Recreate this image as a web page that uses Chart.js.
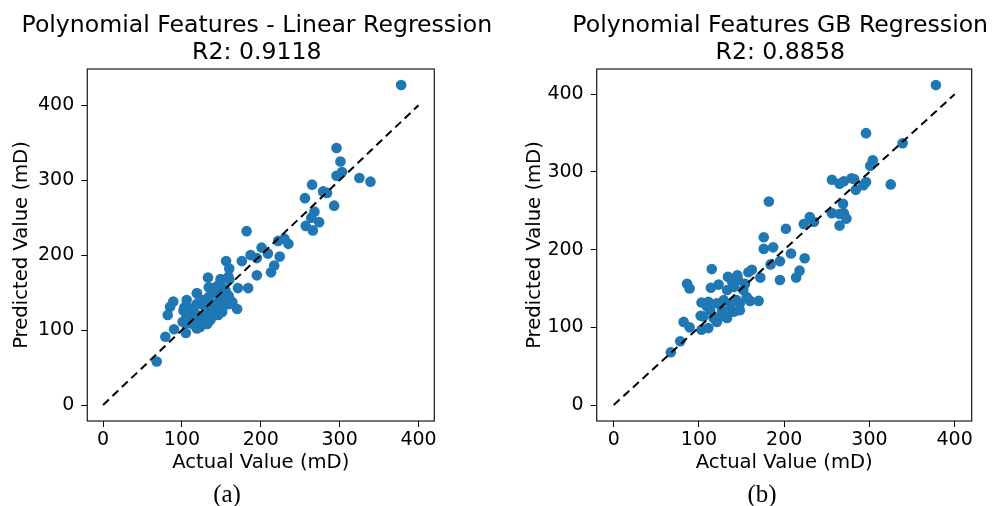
<!DOCTYPE html>
<html><head><meta charset="utf-8">
<script src="https://cdn.jsdelivr.net/npm/chart.js@4"></script>
<style>
html,body{margin:0;padding:0;background:#fff;width:1005px;height:506px;overflow:hidden;}
.wrap{position:absolute;top:0;height:506px;}
.cap{position:absolute;font-family:'Liberation Serif','DejaVu Serif',serif;font-size:25px;color:#000;transform:translate(-50%,-50%);white-space:nowrap;}
</style></head><body>
<div class="wrap" style="left:0;width:500px"><canvas id="c1" width="500" height="506"></canvas></div>
<div class="wrap" style="left:510px;width:495px"><canvas id="c2" width="495" height="506"></canvas></div>
<div class="cap" style="left:227px;top:494px">(a)</div>
<div class="cap" style="left:762px;top:494px">(b)</div>
<script>
// ---- data ----
const xTicks = [0, 100, 200, 300, 400];
const yTicks = [0, 100, 200, 300, 400];
const diagX = [0, 400];
const diagY = [0, 400];

const lrActual = [
  378,296,301,303,296,325,339,265,256,279,
  284,293,268,264,274,257,266,182,222,230,
  235,201,209,195,187,224,217,213,195,176,
  156,160,133,160,171,184,119,89,85,82,
  90,79,68,103,101,105,170,164,156,132,
  140,149,157,148,104,102,115,130,119,132,
  113,123,138,119,134,146,151,142,155,159,
  161,149,159,106,111,123,136,111,119,127,
  123,138,144,149,134,140,153,115,125,119,
  111,138,146,130,117,106,151,161
];
const lrPredicted = [
  427,343,325,311,306,303,298,294,276,285,
  283,266,258,250,244,239,233,232,219,222,
  215,210,202,196,200,198,186,177,173,192,
  192,182,170,167,156,156,149,138,131,120,
  101,91,58,130,111,96,128,137,134,108,
  119,124,145,162,109,126,107,109,120,120,
  129,135,131,149,144,137,124,157,153,146,
  135,168,171,140,115,104,113,126,135,140,
  118,135,149,135,157,153,155,113,107,102,
  109,126,120,129,122,118,140,140
];

const gbActual = [
  378,296,339,304,301,256,265,270,279,282,
  296,293,284,325,269,256,265,270,273,265,
  182,230,235,223,202,176,176,187,208,224,
  195,184,218,214,195,115,86,89,114,123,
  134,145,162,158,172,170,160,103,111,82,
  89,78,67,102,103,111,121,133,141,148,
  144,152,154,133,141,129,121,113,127,137,
  148,105,117,146,139,109,133,125,156
];
const gbPredicted = [
  412,350,337,315,308,290,285,288,292,291,
  287,283,277,284,259,247,246,247,240,231,
  262,242,236,233,227,216,201,203,195,189,
  185,181,173,164,161,175,156,150,151,155,
  165,167,174,171,164,134,134,132,133,107,
  100,82,68,115,97,99,107,112,120,122,
  135,148,156,148,152,135,131,122,122,129,
  131,114,112,161,159,127,118,114,139
];

const titleA = ['Polynomial Features - Linear Regression', 'R2: 0.9118'];
const titleB = ['Polynomial Features GB Regression', 'R2: 0.8858'];

// ---- drawing ----
const F = "'DejaVu Sans', sans-serif";

const frameTitle = {
  id: 'frameTitle',
  afterDraw(chart, args, opts) {
    const ctx = chart.ctx, ca = chart.chartArea;
    ctx.save();
    ctx.strokeStyle = '#1a1a1a';
    ctx.lineWidth = 1.2;
    ctx.strokeRect(ca.left, ca.top, ca.right - ca.left, ca.bottom - ca.top);
    ctx.fillStyle = '#000';
    ctx.font = '23.6px ' + F;
    ctx.textAlign = 'center';
    ctx.textBaseline = 'alphabetic';
    const cx = (ca.left + ca.right) / 2 + (opts.dx || 0);
    (opts.lines || []).forEach((t, i) => ctx.fillText(t, cx, 31.7 + i * 27.5));
    ctx.restore();
  }
};

function makeChart(id, actual, predicted, yMin, yMax, padRight, yAxisWidth, yTitlePad, lines, dx) {
  const pts = actual.map((v, i) => ({x: v, y: predicted[i]}));
  const diag = diagX.map((v, i) => ({x: v, y: diagY[i]}));
  return new Chart(document.getElementById(id), {
    type: 'scatter',
    data: {datasets: [
      {type: 'line', data: diag, borderColor: '#000', borderWidth: 2, borderDash: [8, 5],
       pointRadius: 0, fill: false, order: 0},
      {data: pts, backgroundColor: '#1f77b4', borderWidth: 0, pointRadius: 5.3, order: 1}
    ]},
    options: {
      responsive: false, animation: false, events: [],
      layout: {padding: {left: 0, right: padRight, top: 69, bottom: 31}},
      plugins: {legend: {display: false}, tooltip: {enabled: false}, title: {display: false},
                frameTitle: {lines: lines, dx: dx}},
      scales: {
        x: {type: 'linear', min: -20, max: 420,
            afterBuildTicks: s => { s.ticks = xTicks.map(v => ({value: v})); },
            afterFit: s => { s.height = 54; },
            grid: {display: true, drawOnChartArea: false, drawTicks: true, tickLength: 6, color: '#000', lineWidth: 1},
            border: {display: false},
            ticks: {color: '#000', font: {family: F, size: 19}, padding: 2, maxRotation: 0},
            title: {display: true, text: 'Actual Value (mD)', color: '#000', font: {family: F, size: 19.6}, padding: {top: 0, bottom: 0}}},
        y: {type: 'linear', min: yMin, max: yMax,
            afterBuildTicks: s => { s.ticks = yTicks.map(v => ({value: v})); },
            afterFit: s => { s.width = yAxisWidth; },
            grid: {display: true, drawOnChartArea: false, drawTicks: true, tickLength: 6, color: '#000', lineWidth: 1},
            border: {display: false},
            ticks: {color: '#000', font: {family: F, size: 19}, padding: 7},
            title: {display: true, text: 'Predicted Value (mD)', color: '#000', font: {family: F, size: 19.6}, padding: {top: yTitlePad, bottom: 0}}}
      }
    },
    plugins: [frameTitle]
  });
}

makeChart('c1', lrActual, lrPredicted, -21.35, 448.35, 65.7, 87.3, 10.4, titleA, -4);
makeChart('c2', gbActual, gbPredicted, -20.6, 432.6, 33.3, 86.7, 13.6, titleB, -4);
</script>
</body></html>
